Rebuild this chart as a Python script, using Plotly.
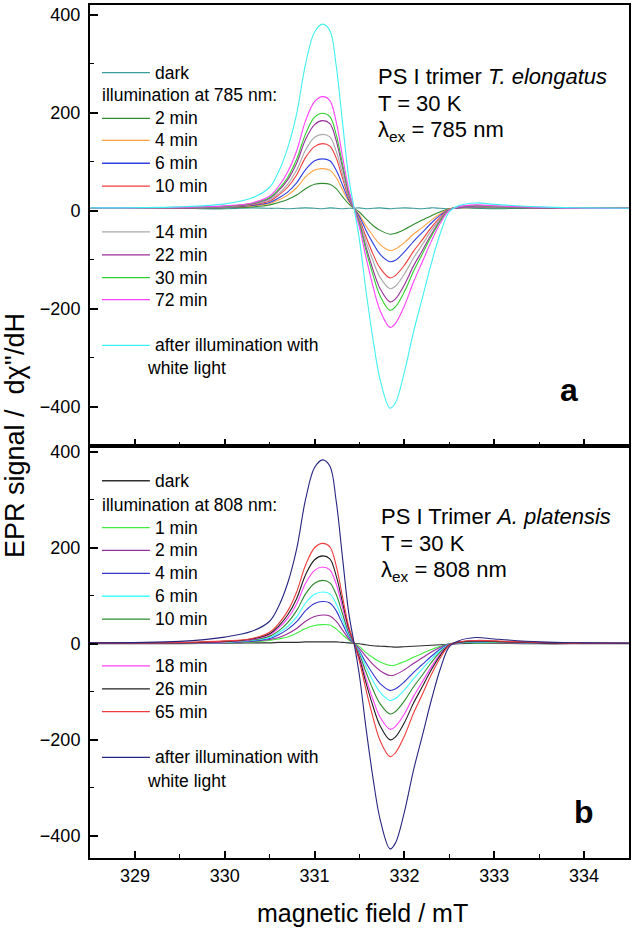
import plotly.graph_objects as go

# ---------------- data ----------------
field_mT = [328.5, 329.5, 330.0, 330.3, 330.5, 330.6, 330.7, 330.8, 330.9, 331.0,
            331.09, 331.17, 331.24, 331.31, 331.38, 331.44, 331.5, 331.57, 331.65, 331.73,
            331.84, 331.9, 332.0, 332.1, 332.2, 332.3, 332.4, 332.5, 332.6, 332.8,
            333.0, 333.5, 334.0, 334.5]

# panel a: PS I trimer T. elongatus, 785 nm
a_dark  = [6, 5, 4, 6, 5, 5, 4, 5, 6, 5, 4, 6, 5, 4, 5, 5, 6, 4, 5, 6, 4, 5, 6, 5, 4, 6, 5, 4, 6, 5, 4, 6, 5, 5]
a_2min  = [5, 5, 6, 8, 12, 17, 23, 32, 45, 54, 56, 54, 45, 29, 14, 5, -3, -16, -30, -40, -48, -46, -38, -28, -19, -10, -2, 4, 6, 6, 6, 5, 5, 5]
a_4min  = [5, 6, 7, 10, 15, 22, 32, 47, 69, 83, 86, 83, 68, 43, 19, 5, -9, -30, -51, -69, -81, -78, -65, -48, -34, -19, -6, 4, 6, 7, 7, 6, 5, 5]
a_6min  = [5, 6, 7, 11, 17, 26, 38, 57, 84, 102, 106, 102, 83, 53, 22, 5, -12, -39, -66, -89, -104, -101, -84, -63, -44, -25, -9, 3, 6, 8, 7, 6, 5, 5]
a_10min = [5, 6, 8, 12, 20, 32, 48, 73, 109, 131, 137, 132, 108, 67, 27, 5, -18, -52, -88, -117, -137, -132, -111, -83, -59, -34, -13, 3, 7, 9, 8, 6, 5, 5]
a_14min = [5, 6, 8, 13, 22, 35, 54, 83, 124, 150, 156, 151, 122, 76, 30, 5, -21, -61, -102, -136, -159, -154, -129, -97, -69, -40, -16, 2, 7, 9, 8, 6, 5, 5]
a_22min = [6, 6, 9, 14, 25, 41, 63, 97, 146, 176, 184, 178, 144, 89, 35, 5, -25, -72, -120, -159, -186, -180, -151, -113, -81, -48, -19, 2, 7, 10, 9, 6, 5, 5]
a_30min = [6, 7, 9, 15, 27, 44, 68, 105, 157, 191, 199, 192, 156, 96, 38, 5, -28, -79, -131, -174, -203, -196, -165, -124, -88, -52, -21, 2, 8, 11, 9, 7, 5, 5]
a_72min = [6, 7, 10, 16, 30, 50, 79, 122, 184, 223, 233, 225, 182, 112, 43, 5, -34, -93, -154, -204, -238, -230, -194, -146, -104, -62, -25, 1, 8, 12, 10, 7, 5, 5]
a_white = [6, 8, 14, 26, 48, 80, 128, 198, 300, 365, 381, 368, 297, 182, 68, 5, -60, -160, -262, -345, -403, -392, -329, -248, -178, -107, -46, -2, 10, 16, 13, 8, 6, 5]

# panel b: PS I Trimer A. platensis, 808 nm
b_dark  = [0, 0, 1, 2, 2, 3, 3, 3, 4, 4, 4, 4, 4, 3, 2, 1, 0, -2, -4, -5, -6, -7, -6, -5, -4, -3, -2, -1, 0, 1, 1, 0, 0, 0]
b_1min  = [1, 1, 2, 4, 7, 10, 14, 22, 32, 38, 40, 39, 31, 19, 8, 1, -6, -18, -29, -38, -45, -44, -37, -28, -20, -12, -5, 0, 2, 2, 2, 1, 1, 1]
b_2min  = [1, 1, 2, 5, 9, 13, 21, 32, 47, 57, 60, 58, 47, 29, 11, 1, -10, -26, -43, -56, -66, -64, -54, -41, -29, -17, -7, 0, 2, 3, 2, 1, 1, 1]
b_4min  = [1, 2, 3, 6, 11, 19, 30, 46, 69, 84, 88, 85, 69, 42, 16, 1, -15, -39, -63, -83, -97, -94, -79, -60, -43, -26, -11, -1, 2, 4, 3, 2, 1, 1]
b_6min  = [1, 2, 3, 7, 13, 23, 36, 56, 85, 103, 108, 104, 84, 51, 19, 1, -18, -47, -77, -101, -118, -114, -96, -73, -52, -32, -14, -1, 2, 4, 3, 2, 1, 1]
b_10min = [1, 2, 4, 8, 16, 27, 44, 69, 104, 126, 132, 127, 103, 63, 23, 1, -22, -58, -95, -125, -146, -141, -119, -90, -65, -39, -17, -2, 3, 5, 4, 2, 1, 1]
b_18min = [1, 2, 4, 9, 19, 33, 53, 83, 126, 153, 160, 154, 125, 76, 28, 1, -27, -71, -116, -153, -178, -172, -146, -110, -79, -48, -21, -2, 3, 6, 5, 2, 1, 1]
b_26min = [2, 2, 5, 10, 21, 37, 60, 94, 144, 175, 183, 177, 142, 87, 32, 1, -31, -80, -130, -171, -200, -194, -164, -124, -89, -54, -24, -2, 3, 6, 5, 2, 1, 1]
b_65min = [2, 3, 6, 11, 24, 42, 68, 108, 164, 200, 209, 202, 163, 99, 36, 1, -37, -94, -153, -202, -235, -227, -192, -145, -105, -64, -29, -3, 4, 7, 6, 3, 1, 1]
b_white = [2, 5, 14, 26, 47, 78, 126, 197, 301, 367, 383, 370, 298, 181, 65, 1, -67, -172, -279, -366, -427, -415, -350, -264, -191, -117, -52, -6, 6, 13, 10, 4, 2, 1]

a_labels = ["dark", "2 min", "4 min", "6 min", "10 min", "14 min", "22 min", "30 min", "72 min",
            "after illumination with"]
b_labels = ["dark", "1 min", "2 min", "4 min", "6 min", "10 min", "18 min", "26 min", "65 min",
            "after illumination with"]
a_series = [a_dark, a_2min, a_4min, a_6min, a_10min, a_14min, a_22min, a_30min, a_72min, a_white]
b_series = [b_dark, b_1min, b_2min, b_4min, b_6min, b_10min, b_18min, b_26min, b_65min, b_white]

x_ticks = [329, 330, 331, 332, 333, 334]
y_ticks = [-400, -200, 0, 200, 400]

# ---------------- styles ----------------
a_colors = ["#3a9a9a", "#2e8b2e", "#ffa040", "#3040e0", "#f03c3c", "#a8a8a8",
            "#9a2e9a", "#30d030", "#ff40ff", "#40f0f0"]
b_colors = ["#303030", "#40ee40", "#9a2e9a", "#3434d0", "#40ffff", "#2e8b2e",
            "#ff40ff", "#202020", "#f03c3c", "#262680"]

FONT = "Liberation Sans, Arial, sans-serif"
W, H = 632, 928
ML, MR, MT, MB = 90, 2, 1, 70
PW, PH = W - ML - MR, H - MT - MB
SPLIT_PX = 444


def px(x):
    return (x - ML) / PW


def py(y):
    return (H - MB - y) / PH


split = py(SPLIT_PX)

fig = go.Figure()
for ser, col in zip(a_series, a_colors):
    fig.add_trace(go.Scatter(x=field_mT, y=ser, mode="lines", xaxis="x", yaxis="y",
                             line=dict(color=col, width=1.1, shape="spline", smoothing=1.0),
                             showlegend=False, hoverinfo="skip"))
for ser, col in zip(b_series, b_colors):
    fig.add_trace(go.Scatter(x=field_mT, y=ser, mode="lines", xaxis="x2", yaxis="y2",
                             line=dict(color=col, width=1.1, shape="spline", smoothing=1.0),
                             showlegend=False, hoverinfo="skip"))

axis_common = dict(showline=True, linewidth=2, linecolor="black", mirror=True,
                   showgrid=False, zeroline=False, ticks="inside", tickcolor="black",
                   tickwidth=1.5, tickfont=dict(family=FONT, size=18, color="black"))

xcommon = dict(axis_common, range=[328.5, 334.5], tickvals=x_ticks, ticklen=7,
               minor=dict(ticks="inside", dtick=0.5, tick0=328.5, ticklen=4,
                          tickwidth=1.2, tickcolor="black"))
ycommon = dict(axis_common, tickvals=y_ticks, ticklen=8, ticklabelstandoff=4,
               minor=dict(ticks="inside", dtick=100, tick0=0, ticklen=4,
                          tickwidth=1.2, tickcolor="black"))

annotations = []
shapes = []


def txt(x, y, text, size=17.5, anchor="left", **kw):
    annotations.append(dict(x=px(x), y=py(y), xref="paper", yref="paper", text=text,
                            showarrow=False, xanchor=anchor, yanchor="middle",
                            font=dict(family=FONT, size=size, color="black"), **kw))


def legend(rows, labels, colors, header, header_y, white_y):
    for (y, lab, col) in zip(rows, labels, colors):
        shapes.append(dict(type="line", xref="paper", yref="paper",
                           x0=px(102), x1=px(150), y0=py(y), y1=py(y),
                           line=dict(color=col, width=1.3)))
        txt(153, y, lab)
    txt(100, header_y, header)
    txt(145, white_y, "white light")


legend([69, 115, 137, 160, 183, 229, 252, 275, 297, 343], a_labels, a_colors,
       "illumination at 785 nm:", 91, 366)
legend([479, 526, 549, 572, 595, 618, 665, 688, 711, 757], b_labels, b_colors,
       "illumination at 808 nm:", 503, 781)

# panel annotations
txt(377, 73, "PS I trimer <i>T. elongatus</i>", size=22)
txt(377, 100, "T = 30 K", size=22)
txt(377, 128, "λ<sub>ex</sub> = 785 nm", size=22)
txt(570, 388, "<b>a</b>", size=32, anchor="center")

txt(380, 515, "PS I Trimer <i>A. platensis</i>", size=22)
txt(380, 542, "T = 30 K", size=22)
txt(380, 570, "λ<sub>ex</sub> = 808 nm", size=22)
txt(585, 812, "<b>b</b>", size=32, anchor="center")

# axis titles
txt(15, 434, "EPR signal /  dχ''/dH", size=27, anchor="center", textangle=-90)
txt(363, 913, "magnetic field / mT", size=25, anchor="center")

fig.update_layout(
    width=W, height=H,
    margin=dict(l=ML, r=MR, t=MT, b=MB),
    paper_bgcolor="white", plot_bgcolor="white",
    xaxis=dict(xcommon, domain=[0, 1], anchor="y", showticklabels=False),
    yaxis=dict(ycommon, domain=[split, 1], anchor="x", range=[-480, 420]),
    xaxis2=dict(xcommon, domain=[0, 1], anchor="y2", showticklabels=True),
    yaxis2=dict(ycommon, domain=[0, split], anchor="x2", range=[-446, 412]),
    annotations=annotations, shapes=shapes,
    hovermode=False, showlegend=False,
)

fig.write_html(
    "out.html",
    config={"displayModeBar": False},
    post_script="document.body.style.margin='0px';document.body.style.padding='0px';"
                "document.documentElement.style.overflow='hidden';",
)
